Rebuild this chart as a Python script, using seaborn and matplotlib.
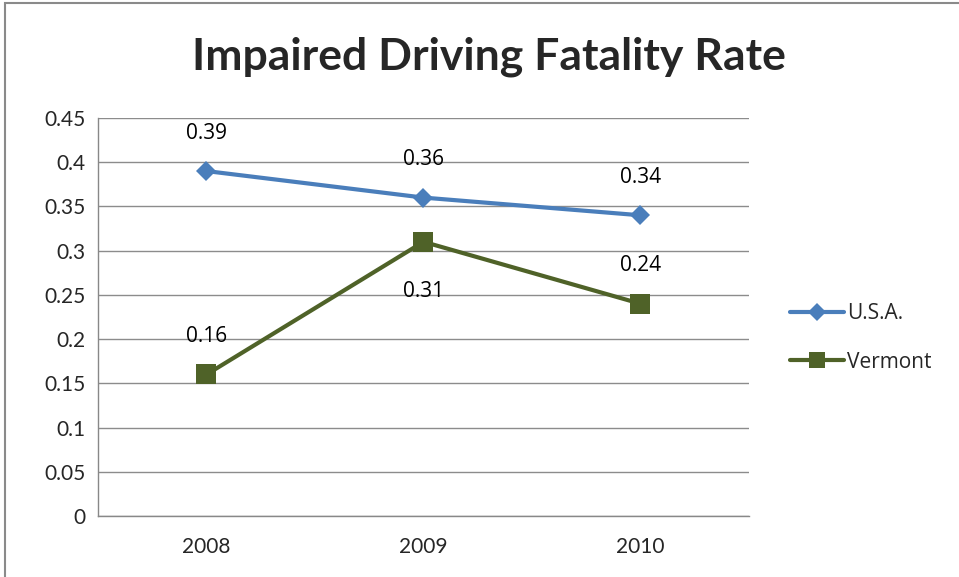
import numpy as np
import pandas as pd
import matplotlib
matplotlib.use("Agg")
import matplotlib.pyplot as plt
import matplotlib.patches as patches
import seaborn as sns

# data
years = ["2008", "2009", "2010"]
usa = [0.39, 0.36, 0.34]
vermont = [0.16, 0.31, 0.24]
series_names = ["U.S.A.", "Vermont"]
ytick_labels = ["0", "0.05", "0.1", "0.15", "0.2", "0.25", "0.3", "0.35", "0.4", "0.45"]

df = pd.DataFrame({
    "year": years * 2,
    "rate": usa + vermont,
    "series": [series_names[0]] * 3 + [series_names[1]] * 3,
})
df["pos"] = df["year"].map({y: i for i, y in enumerate(years)})

sns.set_style("white")
plt.rcParams["font.family"] = ["Lato", "DejaVu Sans"]

fig = plt.figure(figsize=(9.59, 5.77), dpi=100)
ax = fig.add_axes([98 / 959, 1 - 516 / 577, (749 - 98) / 959, (516 - 118) / 577])

colors = {"U.S.A.": "#4A7EBB", "Vermont": "#4F6228"}
markers = {"U.S.A.": "D", "Vermont": "s"}
sizes = {"U.S.A.": 10.5, "Vermont": 14}

sns.lineplot(data=df, x="pos", y="rate", hue="series", style="series",
             palette=colors, markers=markers, dashes=False, linewidth=3,
             ax=ax, legend=False)
for line, name in zip(ax.get_lines(), series_names):
    line.set_markersize(sizes[name])
    line.set_markeredgewidth(0)

# data labels
offsets = {"U.S.A.": [1, 1, 1], "Vermont": [1, -1, 1]}
for name, vals in zip(series_names, [usa, vermont]):
    for i, v in enumerate(vals):
        off = 38 if offsets[name][i] > 0 else -50
        ax.annotate(f"{v:g}", (i, v), xytext=(0, off), textcoords="offset pixels",
                    ha="center", va="center", fontsize=15, color="#000000",
                    family=["Open Sans", "DejaVu Sans"])

ax.set_xlim(-0.5, 2.5)
ax.set_ylim(0, 0.45)
ax.set_yticks(np.arange(0, 0.451, 0.05))
ax.set_yticklabels(ytick_labels)
ax.set_xticks([0, 1, 2])
ax.set_xticklabels(years)
ax.set_xticks([-0.5, 0.5, 1.5, 2.5], minor=True)
ax.tick_params(axis="x", which="major", length=0, pad=15, labelsize=15)
ax.tick_params(axis="x", which="minor", length=6, color="#888888", direction="out")
ax.tick_params(axis="y", length=6, color="#888888", direction="out", pad=3, labelsize=15)
ax.set_xlabel("")
ax.set_ylabel("")
ax.yaxis.grid(True, color="#8c8c8c", linewidth=1)
ax.set_axisbelow(True)
sns.despine(ax=ax, top=True, right=True)
for s in ["left", "bottom"]:
    ax.spines[s].set_color("#888888")
    ax.spines[s].set_linewidth(1)

fig.text(489 / 959, 1 - 57 / 577, "Impaired Driving Fatality Rate",
         ha="center", va="center", fontsize=32, fontweight="bold")

# legend
handles = [plt.Line2D([], [], color=colors[n], marker=markers[n], linewidth=3,
                      markersize=sizes[n] * 0.85, markeredgewidth=0) for n in series_names]
fig.legend(handles, series_names, loc="center left",
           bbox_to_anchor=(771 / 959, 1 - 338 / 577), frameon=False,
           prop={"family": ["Open Sans", "DejaVu Sans"], "size": 15},
           handlelength=2.6, handletextpad=0.15, labelspacing=1.3)

# chart border
fig.add_artist(patches.Rectangle((5 / 959, -0.1), 1.2, 1.1 - 3 / 577,
                                 transform=fig.transFigure, fill=False,
                                 edgecolor="#8a8a8a", linewidth=1.5, clip_on=False))

fig.savefig("out.png", dpi=100)
